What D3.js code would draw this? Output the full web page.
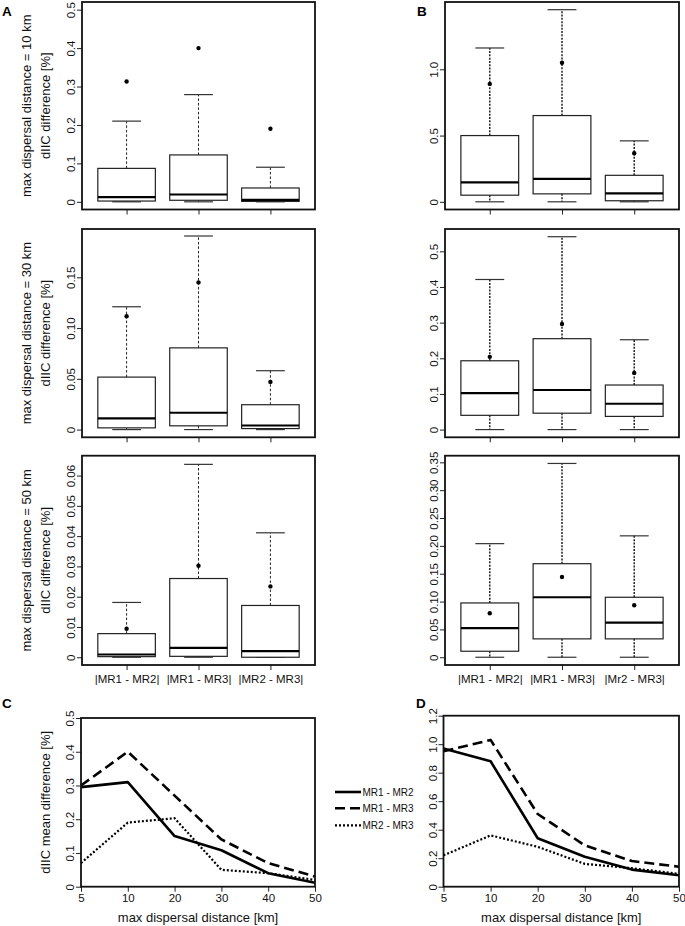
<!DOCTYPE html>
<html>
<head>
<meta charset="utf-8">
<script src="https://cdn.jsdelivr.net/npm/d3@7"></script>
<style>
  html, body { margin: 0; padding: 0; background: #fff; }
  svg { display: block; font-family: "Liberation Sans", Arial, Helvetica, sans-serif; }
</style>
</head>
<body>
<svg id="chart" width="685" height="926"></svg>
<script>
// ---------------- DATA ----------------
const categoriesA = ["|MR1 - MR2|", "|MR1 - MR3|", "|MR2 - MR3|"];
const categoriesB = ["|MR1 - MR2|", "|MR1 - MR3|", "|Mr2 - MR3|"];
const distanceLabels = ["5", "10", "20", "30", "40", "50"];
const seriesNames = ["MR1 - MR2", "MR1 - MR3", "MR2 - MR3"];
const rowLabels = ["max dispersal distance = 10 km", "max dispersal distance = 30 km", "max dispersal distance = 50 km"];

// box statistics: [lower whisker, Q1, median, Q3, upper whisker, mean]
const boxA10 = [[0, 0.002, 0.012, 0.087, 0.21, 0.313],
                [0, 0.004, 0.019, 0.122, 0.279, 0.40],
                [0, 0.001, 0.005, 0.036, 0.09, 0.19]];
const boxB10 = [[0, 0.05, 0.146, 0.50, 1.161, 0.89],
                [0, 0.06, 0.173, 0.651, 1.45, 1.05],
                [0, 0.008, 0.063, 0.20, 0.46, 0.367]];
const boxA30 = [[0, 0.0017, 0.011, 0.0517, 0.121, 0.1116],
                [0, 0.0037, 0.0166, 0.0805, 0.1907, 0.145],
                [0, 0.001, 0.004, 0.0245, 0.058, 0.047]];
const boxB30 = [[0, 0.04, 0.102, 0.193, 0.421, 0.204],
                [0, 0.046, 0.111, 0.255, 0.541, 0.296],
                [0, 0.037, 0.0725, 0.125, 0.252, 0.159]];
const boxA50 = [[0, 0.0002, 0.0009, 0.0078, 0.0181, 0.0094],
                [0, 0.0003, 0.0031, 0.026, 0.0637, 0.0302],
                [0, 0, 0.002, 0.0171, 0.0411, 0.0234]];
const boxB50 = [[0, 0.0108, 0.0523, 0.0975, 0.204, 0.079],
                [0, 0.033, 0.1077, 0.168, 0.348, 0.144],
                [0, 0.033, 0.062, 0.1077, 0.218, 0.0933]];

// y limits (upper) of each box panel
const yMaxA10 = 0.5, yMaxB10 = 1.45, yMaxA30 = 0.19, yMaxB30 = 0.541, yMaxA50 = 0.064, yMaxB50 = 0.348;

// tick values and labels
const ticksA10 = [0, 0.1, 0.2, 0.3, 0.4, 0.5];
const tickLabelsA10 = ["0", "0.1", "0.2", "0.3", "0.4", "0.5"];
const ticksB10 = [0, 0.5, 1.0];
const tickLabelsB10 = ["0", "0.5", "1.0"];
const ticksA30 = [0, 0.05, 0.10, 0.15];
const tickLabelsA30 = ["0", "0.05", "0.10", "0.15"];
const ticksB30 = [0, 0.1, 0.2, 0.3, 0.4, 0.5];
const tickLabelsB30 = ["0", "0.1", "0.2", "0.3", "0.4", "0.5"];
const ticksA50 = [0, 0.01, 0.02, 0.03, 0.04, 0.05, 0.06];
const tickLabelsA50 = ["0", "0.01", "0.02", "0.03", "0.04", "0.05", "0.06"];
const ticksB50 = [0, 0.05, 0.10, 0.15, 0.20, 0.25, 0.30, 0.35];
const tickLabelsB50 = ["0", "0.05", "0.10", "0.15", "0.20", "0.25", "0.30", "0.35"];

// mean difference lines
const meanC_MR1MR2 = [0.295, 0.31, 0.15, 0.108, 0.04, 0.012];
const meanC_MR1MR3 = [0.30, 0.40, 0.27, 0.14, 0.07, 0.03];
const meanC_MR2MR3 = [0.07, 0.19, 0.203, 0.05, 0.04, 0.02];
const meanD_MR1MR2 = [0.97, 0.88, 0.34, 0.21, 0.12, 0.08];
const meanD_MR1MR3 = [0.95, 1.03, 0.51, 0.29, 0.18, 0.14];
const meanD_MR2MR3 = [0.22, 0.36, 0.28, 0.16, 0.13, 0.09];
const ticksC = [0, 0.1, 0.2, 0.3, 0.4, 0.5];
const tickLabelsC = ["0", "0.1", "0.2", "0.3", "0.4", "0.5"];
const ticksD = [0, 0.2, 0.4, 0.6, 0.8, 1.0, 1.2];
const tickLabelsD = ["0", "0.2", "0.4", "0.6", "0.8", "1.0", "1.2"];

// ---------------- DRAW ----------------
const svg = d3.select("#chart");
const TICK_FONT = "11.5px";
const TITLE_FONT = "13px";

function rotateYLabels(g) {
  g.selectAll(".tick text")
    .attr("transform", "rotate(-90)")
    .attr("x", 0).attr("y", -7).attr("dy", 0)
    .attr("text-anchor", "middle")
    .style("font-size", TICK_FONT).attr("fill", "#111");
  g.selectAll(".tick line").attr("stroke", "#222");
  g.select(".domain").remove();
}

function boxPanel(cfg) {
  const { x0, x1, y0, y1, stats, yMax, ticks, tickLabels, cats, showCats, bold } = cfg;
  const x = d3.scaleLinear().domain([0.38, 3.62]).range([x0, x1]);
  const pad = yMax * 0.04;
  const y = d3.scaleLinear().domain([-pad, yMax + pad]).range([y1, y0]);
  const g = svg.append("g");

  // y axis
  const ya = g.append("g").attr("transform", `translate(${x0},0)`)
    .call(d3.axisLeft(y).tickValues(ticks).tickSize(5)
      .tickFormat((d, i) => tickLabels[i]));
  rotateYLabels(ya);

  // x axis
  const xa = g.append("g").attr("transform", `translate(0,${y1})`)
    .call(d3.axisBottom(x).tickValues([1, 2, 3]).tickSize(5)
      .tickFormat((d, i) => showCats ? cats[i] : ""));
  xa.select(".domain").remove();
  xa.selectAll(".tick line").attr("stroke", "#222");
  xa.selectAll(".tick text").attr("y", 10).style("font-size", TICK_FONT).attr("fill", "#111");

  const hw = 0.4, cw = 0.2;
  stats.forEach((s, i) => {
    const c = i + 1;
    const [lo, q1, med, q3, hi, mean] = s;
    const wStyle = bold ? { w: 1.5, d: "2,1.3" } : { w: 1, d: "2.5,2" };
    // whiskers
    g.append("line").attr("x1", x(c)).attr("x2", x(c)).attr("y1", y(q3)).attr("y2", y(hi))
      .attr("stroke", "#222").attr("stroke-width", wStyle.w).attr("stroke-dasharray", wStyle.d);
    g.append("line").attr("x1", x(c)).attr("x2", x(c)).attr("y1", y(q1)).attr("y2", y(lo))
      .attr("stroke", "#222").attr("stroke-width", wStyle.w).attr("stroke-dasharray", wStyle.d);
    // caps
    [lo, hi].forEach(v => {
      g.append("line").attr("x1", x(c - cw)).attr("x2", x(c + cw)).attr("y1", y(v)).attr("y2", y(v))
        .attr("stroke", "#333").attr("stroke-width", 1.2);
    });
    // box
    g.append("rect").attr("x", x(c - hw)).attr("width", x(c + hw) - x(c - hw))
      .attr("y", y(q3)).attr("height", Math.max(0.5, y(q1) - y(q3)))
      .attr("fill", "#fff").attr("stroke", "#222").attr("stroke-width", 1.2);
    // median
    g.append("line").attr("x1", x(c - hw)).attr("x2", x(c + hw)).attr("y1", y(med)).attr("y2", y(med))
      .attr("stroke", "#000").attr("stroke-width", 2.2);
    // mean
    g.append("circle").attr("cx", x(c)).attr("cy", y(mean)).attr("r", 2.2).attr("fill", "#000");
  });

  // frame
  g.append("rect").attr("x", x0).attr("y", y0).attr("width", x1 - x0).attr("height", y1 - y0)
    .attr("fill", "none").attr("stroke", "#111").attr("stroke-width", 1.8);
}

const leftX = [82, 315], rightX = [445, 679];
const rows = [[2, 209.5], [229, 437.3], [455.7, 665]];

boxPanel({ x0: leftX[0], x1: leftX[1], y0: rows[0][0], y1: rows[0][1], stats: boxA10, yMax: yMaxA10, ticks: ticksA10, tickLabels: tickLabelsA10, cats: categoriesA, showCats: false, bold: false });
boxPanel({ x0: rightX[0], x1: rightX[1], y0: rows[0][0], y1: rows[0][1], stats: boxB10, yMax: yMaxB10, ticks: ticksB10, tickLabels: tickLabelsB10, cats: categoriesB, showCats: false, bold: true });
boxPanel({ x0: leftX[0], x1: leftX[1], y0: rows[1][0], y1: rows[1][1], stats: boxA30, yMax: yMaxA30, ticks: ticksA30, tickLabels: tickLabelsA30, cats: categoriesA, showCats: false, bold: false });
boxPanel({ x0: rightX[0], x1: rightX[1], y0: rows[1][0], y1: rows[1][1], stats: boxB30, yMax: yMaxB30, ticks: ticksB30, tickLabels: tickLabelsB30, cats: categoriesB, showCats: false, bold: true });
boxPanel({ x0: leftX[0], x1: leftX[1], y0: rows[2][0], y1: rows[2][1], stats: boxA50, yMax: yMaxA50, ticks: ticksA50, tickLabels: tickLabelsA50, cats: categoriesA, showCats: true, bold: false });
boxPanel({ x0: rightX[0], x1: rightX[1], y0: rows[2][0], y1: rows[2][1], stats: boxB50, yMax: yMaxB50, ticks: ticksB50, tickLabels: tickLabelsB50, cats: categoriesB, showCats: true, bold: true });

// row titles
rows.forEach((r, i) => {
  const cy = (r[0] + r[1]) / 2;
  svg.append("text").attr("transform", `translate(30.5,${cy}) rotate(-90)`)
    .attr("text-anchor", "middle").style("font-size", TITLE_FONT).attr("fill", "#111")
    .text(rowLabels[i]);
  svg.append("text").attr("transform", `translate(49.5,${cy}) rotate(-90)`)
    .attr("text-anchor", "middle").style("font-size", TITLE_FONT).attr("fill", "#111")
    .text("dIIC difference [%]");
});

// ---------- line panels ----------
const lineStyles = [
  { w: 2.6, d: null },
  { w: 2.6, d: "10,5" },
  { w: 2.2, d: "2,2" }
];

function linePanel(cfg) {
  const { x0, x1, y0, y1, yMax, ticks, tickLabels, series, yTitle } = cfg;
  const x = d3.scalePoint().domain(distanceLabels).range([x0, x1]).padding(0);
  const y = d3.scaleLinear().domain([0, yMax]).range([y1, y0]);
  const g = svg.append("g");
  const ya = g.append("g").attr("transform", `translate(${x0},0)`)
    .call(d3.axisLeft(y).tickValues(ticks).tickSize(5).tickFormat((d, i) => tickLabels[i]));
  rotateYLabels(ya);
  const xa = g.append("g").attr("transform", `translate(0,${y1})`)
    .call(d3.axisBottom(x).tickSize(5));
  xa.select(".domain").remove();
  xa.selectAll(".tick line").attr("stroke", "#222");
  xa.selectAll(".tick text").attr("y", 7).style("font-size", TICK_FONT).attr("fill", "#111");

  const line = d3.line().x((d, i) => x(distanceLabels[i])).y(d => y(d));
  series.forEach((s, i) => {
    const st = lineStyles[i];
    g.append("path").datum(s).attr("d", line).attr("fill", "none")
      .attr("stroke", "#000").attr("stroke-width", st.w)
      .attr("stroke-dasharray", st.d).attr("stroke-linejoin", "round");
  });
  g.append("rect").attr("x", x0).attr("y", y0).attr("width", x1 - x0).attr("height", y1 - y0)
    .attr("fill", "none").attr("stroke", "#111").attr("stroke-width", 1.8);

  svg.append("text").attr("x", (x0 + x1) / 2).attr("y", 922)
    .attr("text-anchor", "middle").style("font-size", TITLE_FONT).attr("fill", "#111")
    .text("max dispersal distance [km]");
  if (yTitle) {
    svg.append("text").attr("transform", `translate(49.5,${(y0 + y1) / 2}) rotate(-90)`)
      .attr("text-anchor", "middle").style("font-size", TITLE_FONT).attr("fill", "#111")
      .text(yTitle);
  }
}

linePanel({ x0: 81, x1: 315, y0: 718, y1: 886.7, yMax: 0.5, ticks: ticksC, tickLabels: tickLabelsC,
  series: [meanC_MR1MR2, meanC_MR1MR3, meanC_MR2MR3], yTitle: "dIIC mean difference [%]" });
linePanel({ x0: 443.5, x1: 679, y0: 715.7, y1: 886.7, yMax: 1.2, ticks: ticksD, tickLabels: tickLabelsD,
  series: [meanD_MR1MR2, meanD_MR1MR3, meanD_MR2MR3], yTitle: null });

// legend
const legendY = [792, 808.3, 825.3];
seriesNames.forEach((name, i) => {
  const st = lineStyles[i];
  svg.append("line").attr("x1", 335).attr("x2", 361).attr("y1", legendY[i]).attr("y2", legendY[i])
    .attr("stroke", "#000").attr("stroke-width", st.w).attr("stroke-dasharray", st.d);
  svg.append("text").attr("x", 362.5).attr("y", legendY[i]).attr("dy", "0.35em")
    .style("font-size", "10px").attr("fill", "#111").text(name);
});

// panel letters
[["A", 2, 15.5], ["B", 417, 15.5], ["C", 2, 707.5], ["D", 416, 707.5]].forEach(([t, x, y]) => {
  svg.append("text").attr("x", x).attr("y", y).style("font-size", "13.5px")
    .style("font-weight", "bold").attr("fill", "#000").text(t);
});
</script>
</body>
</html>
